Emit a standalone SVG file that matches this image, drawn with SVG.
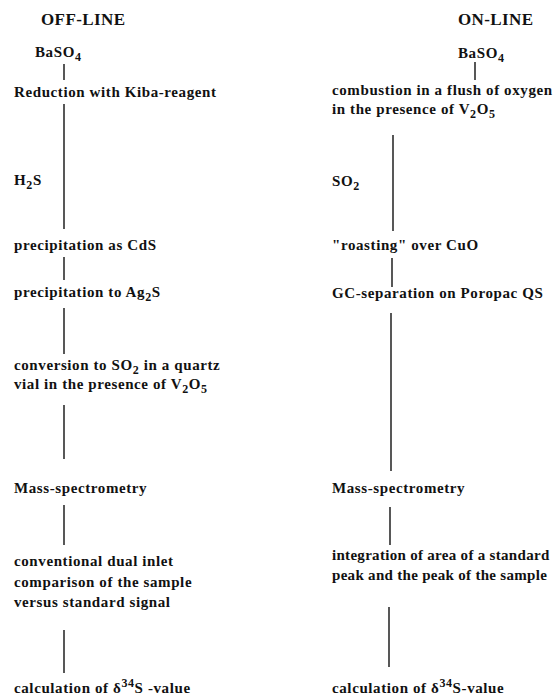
<svg xmlns="http://www.w3.org/2000/svg" width="557" height="698" viewBox="0 0 557 698">
<style>
text{font-family:"Liberation Serif","Times New Roman",serif;font-weight:bold;font-size:15px;letter-spacing:0.6px;fill:#111}
.h{font-size:17px;letter-spacing:0.4px}
.tight{letter-spacing:0.3px}
.sub{font-size:12px}
.con line{stroke:#111;stroke-width:1.4}
</style>
<rect width="557" height="698" fill="#fff"/>
<g id="off-line">
<g id="off-title"><text class="h" x="41" y="25">OFF-LINE</text></g>
<g id="off-baso4"><text x="35" y="57">BaSO<tspan class="sub" dy="4">4</tspan></text></g>
<g id="off-reduction"><text x="14" y="97">Reduction with Kiba-reagent</text></g>
<g id="off-h2s"><text x="14" y="185">H<tspan class="sub" dy="4">2</tspan><tspan dy="-4">S</tspan></text></g>
<g id="off-cds"><text x="14" y="250">precipitation as CdS</text></g>
<g id="off-ag2s"><text x="14" y="297">precipitation to Ag<tspan class="sub" dy="4">2</tspan><tspan dy="-4">S</tspan></text></g>
<g id="off-conversion"><text x="14" y="370">conversion to SO<tspan class="sub" dy="4">2</tspan><tspan dy="-4"> in a quartz</tspan></text>
<text x="14" y="389">vial in the presence of V<tspan class="sub" dy="4">2</tspan><tspan dy="-4">O</tspan><tspan class="sub" dy="4">5</tspan></text></g>
<g id="off-ms"><text x="14" y="493">Mass-spectrometry</text></g>
<g id="off-dual"><text x="14" y="566">conventional dual inlet</text>
<text x="14" y="587">comparison of the sample</text>
<text x="14" y="607">versus standard signal</text></g>
<g id="off-calc"><text x="14" y="693">calculation of δ<tspan class="sub" dy="-6">34</tspan><tspan dy="6">S -value</tspan></text></g>
</g>
<g id="on-line">
<g id="on-title"><text class="h" x="458" y="25">ON-LINE</text></g>
<g id="on-baso4"><text x="458" y="58">BaSO<tspan class="sub" dy="4">4</tspan></text></g>
<g id="on-combustion"><text x="332" y="95">combustion in a flush of oxygen</text>
<text x="332" y="114">in the presence of V<tspan class="sub" dy="4">2</tspan><tspan dy="-4">O</tspan><tspan class="sub" dy="4">5</tspan></text></g>
<g id="on-so2"><text x="332" y="186">SO<tspan class="sub" dy="4">2</tspan></text></g>
<g id="on-roasting"><text x="332" y="250">"roasting" over CuO</text></g>
<g id="on-gc"><text x="332" y="298">GC-separation on Poropac QS</text></g>
<g id="on-ms"><text x="332" y="493">Mass-spectrometry</text></g>
<g id="on-integration"><text class="tight" x="332" y="560">integration of area of a standard</text>
<text class="tight" x="332" y="580">peak and the peak of the sample</text></g>
<g id="on-calc"><text x="332" y="693">calculation of δ<tspan class="sub" dy="-6">34</tspan><tspan dy="6">S-value</tspan></text></g>
</g>
<g id="connectors" class="con">
<line x1="64" y1="64" x2="64" y2="80"/>
<line x1="64" y1="104" x2="64" y2="229"/>
<line x1="64" y1="257" x2="64" y2="280"/>
<line x1="64" y1="308" x2="64" y2="354"/>
<line x1="64" y1="405" x2="64" y2="459"/>
<line x1="64" y1="505" x2="64" y2="545"/>
<line x1="64" y1="630" x2="64" y2="673"/>
<line x1="475" y1="62" x2="475" y2="80"/>
<line x1="393" y1="135" x2="393" y2="231"/>
<line x1="392" y1="258" x2="392" y2="287"/>
<line x1="391" y1="313" x2="391" y2="471"/>
<line x1="390" y1="507" x2="390" y2="545"/>
<line x1="389" y1="607" x2="389" y2="667"/>
</g>
</svg>
